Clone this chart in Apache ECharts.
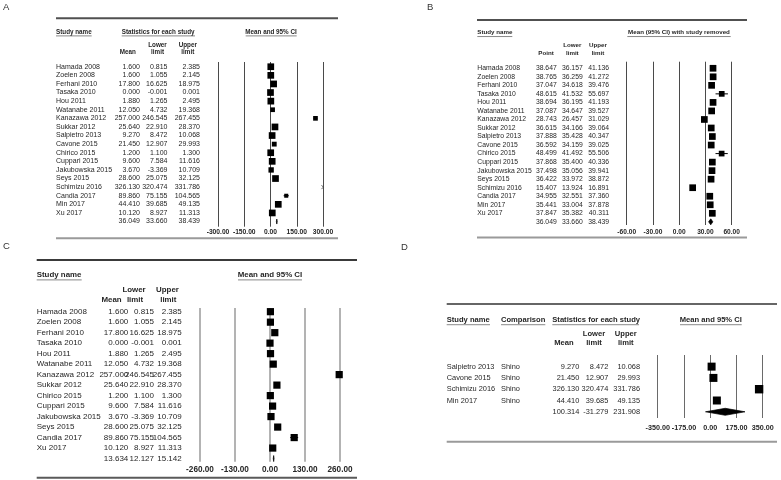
<!DOCTYPE html>
<html><head><meta charset="utf-8">
<script src="https://cdn.jsdelivr.net/npm/echarts/dist/echarts.min.js"></script>
<style>html,body{margin:0;padding:0;background:#fff}#main{width:781px;height:480px}</style>
</head><body><div id="main"></div>
<script>
// ---------- DATA ----------
const namesA = ['Hamada 2008','Zoelen 2008','Ferhani 2010','Tasaka 2010','Hou 2011','Watanabe 2011','Kanazawa 2012','Sukkar 2012','Salpietro 2013','Cavone 2015','Chirico 2015','Cuppari 2015','Jakubowska 2015','Seys 2015','Schimizu 2016','Candia 2017','Min 2017','Xu 2017'];
const meanA  = [1.600,1.600,17.800,0.000,1.880,12.050,257.000,25.640,9.270,21.450,1.200,9.600,3.670,28.600,326.130,89.860,44.410,10.120];
const lowerA = [0.815,1.055,16.625,-0.001,1.265,4.732,246.545,22.910,8.472,12.907,1.100,7.584,-3.369,25.075,320.474,75.155,39.685,8.927];
const upperA = [2.385,2.145,18.975,0.001,2.495,19.368,267.455,28.370,10.068,29.993,1.300,11.616,10.709,32.125,331.786,104.565,49.135,11.313];
const summaryA = [36.049,33.660,38.439];
const weightA = [1,1,1,1,1,0.7,0.7,1,1,0.72,1,1,0.8,1,1,0.6,1,1];
const ticksA = [-300,-150,0,150,300];

const namesB = namesA;
const pointB = [38.647,38.765,37.047,48.615,38.694,37.087,28.743,36.615,37.888,36.592,48.499,37.868,37.498,36.422,15.407,34.955,35.441,37.847];
const lowerB = [36.157,36.259,34.618,41.532,36.195,34.647,26.457,34.166,35.428,34.159,41.492,35.400,35.056,33.972,13.924,32.551,33.004,35.382];
const upperB = [41.136,41.272,39.476,55.697,41.193,39.527,31.029,39.064,40.347,39.025,55.506,40.336,39.941,38.872,16.891,37.360,37.878,40.311];
const summaryB = [36.049,33.660,38.439];
const weightB = [1,1,1,0.85,1,1,1,1,1,1,0.85,1,1,1,1,1,1,1];
const ticksB = [-60,-30,0,30,60];

const namesC = ['Hamada 2008','Zoelen 2008','Ferhani 2010','Tasaka 2010','Hou 2011','Watanabe 2011','Kanazawa 2012','Sukkar 2012','Chirico 2015','Cuppari 2015','Jakubowska 2015','Seys 2015','Candia 2017','Xu 2017'];
const meanC  = [1.600,1.600,17.800,0.000,1.880,12.050,257.000,25.640,1.200,9.600,3.670,28.600,89.860,10.120];
const lowerC = [0.815,1.055,16.625,-0.001,1.265,4.732,246.545,22.910,1.100,7.584,-3.369,25.075,75.155,8.927];
const upperC = [2.385,2.145,18.975,0.001,2.495,19.368,267.455,28.370,1.300,11.616,10.709,32.125,104.565,11.313];
const summaryC = [13.634,12.127,15.142];
const weightC = [1,1,1,1,1,1,1,1,1,1,1,1,1,1];
const ticksC = [-260,-130,0,130,260];

const namesD = ['Salpietro 2013','Cavone 2015','Schimizu 2016','Min 2017'];
const comparisonD = ['Shino','Shino','Shino','Shino'];
const meanD  = [9.270,21.450,326.130,44.410];
const lowerD = [8.472,12.907,320.474,39.685];
const upperD = [10.068,29.993,331.786,49.135];
const summaryD = [100.314,-31.279,231.908];
const weightD = [1,1,1.05,1];
const ticksD = [-350,-175,0,175,350];

// ---------- BUILD ----------
const FF = '"Liberation Sans", Arial, sans-serif';
const TXT = '#262626';
const grids = [], xAxes = [], yAxes = [], series = [];

function panel(p) {
  const gi = grids.length;
  const t = p.ticks;
  const xmin = t[0], xmax = t[t.length - 1], step = t[1] - t[0];
  grids.push({left: p.box[0], top: p.box[1], width: p.box[2], height: p.box[3], containLabel: false, outerBoundsMode: 'none'});
  xAxes.push({
    type: 'value', gridIndex: gi, min: xmin, max: xmax, interval: step, position: 'bottom',
    axisLine: {show: false}, axisTick: {show: false},
    splitLine: {show: true, showMinLine: true, showMaxLine: true, lineStyle: {color: p.lineColor, width: p.lineWidth}},
    axisLabel: {show: true, formatter: v => v.toFixed(2), fontFamily: FF, fontWeight: 'bold', fontSize: p.tickFont,
      color: TXT, margin: p.tickMargin, showMinLabel: true, showMaxLabel: true, hideOverlap: false}
  });
  yAxes.push({type: 'value', gridIndex: gi, min: p.yRange[0], max: p.yRange[1], inverse: true, show: false, splitLine: {show: false}});
  const n = p.mean.length;
  const rows = [];
  for (let i = 0; i < n; i++) rows.push([p.mean[i], p.lower[i], p.upper[i], i]);
  rows.push([p.summary[0], p.summary[1], p.summary[2], n]);

  // marks
  series.push({
    type: 'custom', xAxisIndex: gi, yAxisIndex: gi, clip: false, silent: true, animation: false,
    encode: {x: [0, 1, 2], y: 3},
    data: rows,
    renderItem: function (params, api) {
      const i = params.dataIndex;
      const m = api.value(0), lo = api.value(1), hi = api.value(2), r = api.value(3);
      const y = api.coord([xmin, r])[1];
      const X = v => api.coord([Math.max(xmin, Math.min(xmax, v)), r])[0];
      if (i === n) {
        const h = p.diamondH;
        return {type: 'polygon', shape: {points: [[X(lo), y], [X(m), y - h / 2], [X(hi), y], [X(m), y + h / 2]]},
          style: {fill: '#000', stroke: '#000', lineWidth: 0.7}};
      }
      if (m > xmax) {
        const x0 = X(xmax);
        return {type: 'polyline', shape: {points: [[x0 - 1.5, y - 2], [x0 + 0.3, y], [x0 - 1.5, y + 2]]},
          style: {stroke: '#444', fill: null, lineWidth: 0.8}};
      }
      const s = p.baseSize * p.weight[i];
      return {type: 'group', children: [
        {type: 'line', shape: {x1: X(lo), y1: y, x2: X(hi), y2: y}, style: {stroke: '#000', lineWidth: 1}},
        {type: 'rect', shape: {x: X(m) - s / 2, y: y - s / 2, width: s, height: s}, style: {fill: '#000'}}
      ]};
    }
  });

  // table text
  series.push({
    type: 'custom', xAxisIndex: gi, yAxisIndex: gi, clip: false, silent: true, animation: false,
    encode: {x: 0, y: 3},
    data: rows,
    renderItem: function (params, api) {
      const i = params.dataIndex;
      const y = api.coord([xmin, api.value(3)])[1];
      const st = (text, align) => ({text: text, fill: TXT, fontSize: p.font, fontFamily: FF, align: align, verticalAlign: 'middle'});
      const kids = [];
      const c = p.cols;
      if (i < n) {
        kids.push({type: 'text', x: c.name, y: y, style: st(p.names[i], 'left')});
        if (p.extra) kids.push({type: 'text', x: c.extra, y: y, style: st(p.extra[i], 'left')});
      }
      kids.push({type: 'text', x: c.mean, y: y, style: st(api.value(0).toFixed(3), 'right')});
      kids.push({type: 'text', x: c.lower, y: y, style: st(api.value(1).toFixed(3), 'right')});
      kids.push({type: 'text', x: c.upper, y: y, style: st(api.value(2).toFixed(3), 'right')});
      return {type: 'group', children: kids};
    }
  });
}

panel({ticks: ticksA, box: [218, 62, 105, 164.7], yRange: [-0.55, 18.6],
  mean: meanA, lower: lowerA, upper: upperA, summary: summaryA, names: namesA, weight: weightA,
  baseSize: 6.7, diamondH: 5, font: 7, tickFont: 6.7, tickMargin: 1.6, lineColor: '#4a4a4a', lineWidth: 1,
  cols: {name: 56, mean: 140, lower: 167.5, upper: 200}});

panel({ticks: ticksB, box: [626.7, 61.7, 105, 163.3], yRange: [-0.77, 18.37],
  mean: pointB, lower: lowerB, upper: upperB, summary: summaryB, names: namesB, weight: weightB,
  baseSize: 6.7, diamondH: 6, font: 6.8, tickFont: 6.6, tickMargin: 3.7, lineColor: '#4a4a4a', lineWidth: 1,
  cols: {name: 477.3, mean: 556.7, lower: 582.7, upper: 609}});

panel({ticks: ticksC, box: [200, 308, 140, 153.7], yRange: [-0.35, 14.3],
  mean: meanC, lower: lowerC, upper: upperC, summary: summaryC, names: namesC, weight: weightC,
  baseSize: 7.2, diamondH: 6, font: 8, tickFont: 8.2, tickMargin: 4.2, lineColor: '#9a9a9a', lineWidth: 1.5,
  cols: {name: 36.7, mean: 128.3, lower: 154, upper: 181.7}});

panel({ticks: ticksD, box: [657.7, 355, 105, 63], yRange: [-1.03, 4.55],
  mean: meanD, lower: lowerD, upper: upperD, summary: summaryD, names: namesD, extra: comparisonD, weight: weightD,
  baseSize: 8, diamondH: 7, font: 7.4, tickFont: 7.2, tickMargin: 6.7, lineColor: '#6a6a6a', lineWidth: 1,
  cols: {name: 446.7, extra: 501, mean: 579.3, lower: 608.3, upper: 640}});

// ---------- DECORATION (headers, rules, panel letters) ----------
const graphics = [];
function hdr(text, x, y, size, align, ul) {
  graphics.push({type: 'text', x: x, y: y, silent: true,
    style: {text: text, fill: TXT, fontSize: size, fontWeight: 'bold', fontFamily: FF, align: align || 'left', verticalAlign: 'middle'}});
  if (ul) graphics.push({type: 'line', silent: true, shape: {x1: ul[0], y1: y + size * 0.62, x2: ul[1], y2: y + size * 0.62},
    style: {stroke: '#555', lineWidth: 0.7}});
}
function rule(x1, x2, y, color, w) {
  graphics.push({type: 'line', silent: true, shape: {x1: x1, y1: y, x2: x2, y2: y}, style: {stroke: color, lineWidth: w}});
}
function letter(t, x, y) {
  graphics.push({type: 'text', x: x, y: y, silent: true, style: {text: t, fill: '#333', fontSize: 9.5, fontFamily: FF, align: 'left', verticalAlign: 'middle'}});
}
letter('A', 3, 7.5); letter('B', 427, 7.5); letter('C', 3, 246.5); letter('D', 401, 247);

// A
rule(56, 338, 18.3, '#505050', 2); rule(56, 338, 238.3, '#9a9a9a', 2);
hdr('Study name', 56, 32, 6.3, 'left', [56, 91.7]);
hdr('Statistics for each study', 121.7, 32, 6.3, 'left', [121.7, 195]);
hdr('Mean and 95% CI', 271, 32, 6.3, 'center', [245.7, 296.7]);
hdr('Mean', 127.7, 52.3, 6.3, 'center'); hdr('Lower', 157.5, 45, 6.3, 'center'); hdr('limit', 157.5, 52.3, 6.3, 'center');
hdr('Upper', 187.8, 45, 6.3, 'center'); hdr('limit', 187.8, 52.3, 6.3, 'center');
// B
rule(477, 747, 20, '#505050', 2); rule(477, 747, 237.5, '#9a9a9a', 2.2);
hdr('Study name', 477.3, 32.7, 6.2, 'left', [477.3, 512.3]);
hdr('Mean (95% CI) with study removed', 679, 32.7, 6.2, 'center', [627.3, 730.7]);
hdr('Point', 546, 53.3, 6.2, 'center'); hdr('Lower', 572.3, 45.7, 6.2, 'center'); hdr('limit', 572.3, 53.3, 6.2, 'center');
hdr('Upper', 598, 45.7, 6.2, 'center'); hdr('limit', 598, 53.3, 6.2, 'center');
// C
rule(36.7, 357, 260, '#3a3a3a', 2); rule(36.7, 357, 477.7, '#5a5a5a', 2);
hdr('Study name', 36.7, 275, 7.9, 'left', [36.7, 81.7]);
hdr('Mean and 95% CI', 270, 275, 7.9, 'center', [238, 302]);
hdr('Mean', 111.5, 300, 7.9, 'center'); hdr('Lower', 134, 290, 7.9, 'center'); hdr('limit', 135, 300, 7.9, 'center');
hdr('Upper', 167.5, 290, 7.9, 'center'); hdr('limit', 168.3, 300, 7.9, 'center');
// D
rule(446.7, 777, 304, '#666', 2); rule(446.7, 777, 441.7, '#9a9a9a', 2);
hdr('Study name', 446.7, 320, 7.6, 'left', [446.7, 490]);
hdr('Comparison', 501, 320, 7.6, 'left', [501, 545.3]);
hdr('Statistics for each study', 552.3, 320, 7.6, 'left', [552.3, 639]);
hdr('Mean and 95% CI', 710.8, 320, 7.6, 'center', [680, 741.7]);
hdr('Mean', 564, 342.7, 7.6, 'center'); hdr('Lower', 594, 334, 7.6, 'center'); hdr('limit', 594, 343, 7.6, 'center');
hdr('Upper', 625.8, 334, 7.6, 'center'); hdr('limit', 625.8, 343, 7.6, 'center');

const chart = echarts.init(document.getElementById('main'), null, {renderer: 'canvas'});
chart.setOption({
  animation: false,
  backgroundColor: '#fff',
  grid: grids, xAxis: xAxes, yAxis: yAxes, series: series,
  graphic: {elements: graphics}
});
</script></body></html>
